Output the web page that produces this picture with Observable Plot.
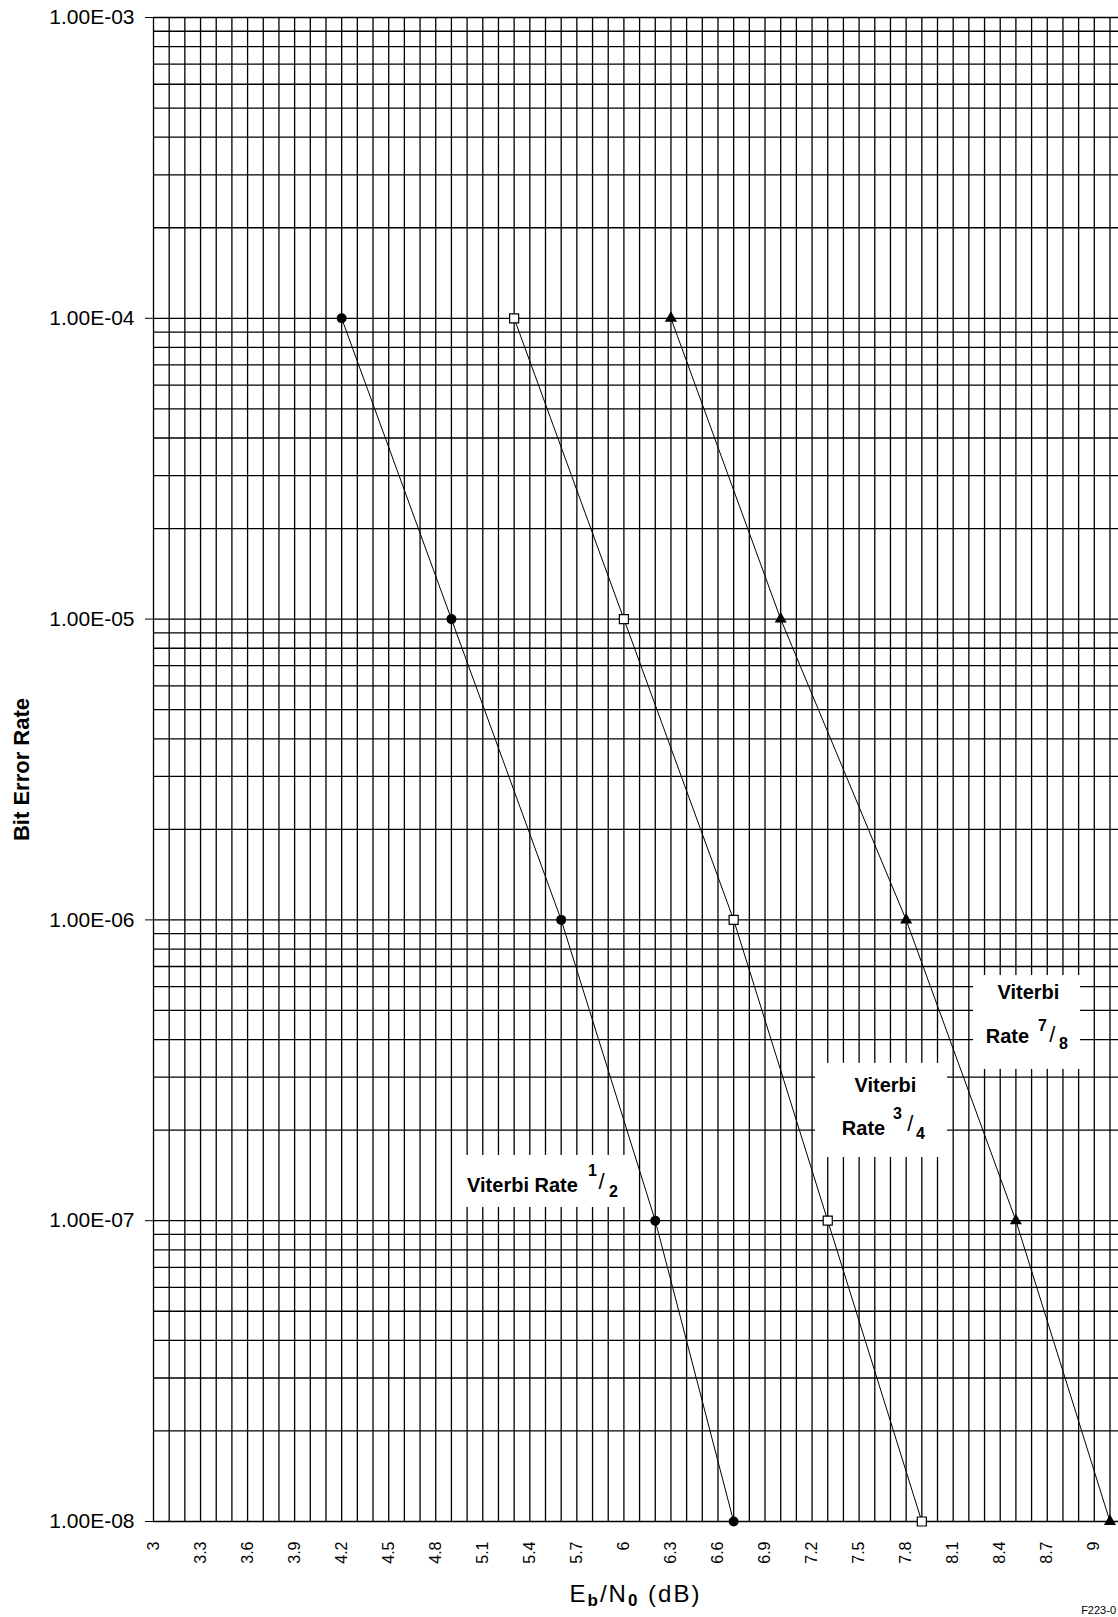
<!DOCTYPE html>
<html><head><meta charset="utf-8">
<script src="https://cdn.jsdelivr.net/npm/d3@7"></script>
<script src="https://cdn.jsdelivr.net/npm/@observablehq/plot@0.6"></script>
<style>
body{margin:0;background:#fff;overflow:hidden}
#chart svg{display:block}
</style>
</head><body><div id="chart"></div>
<script>
// ---- data ----
const ber = [1e-4, 1e-5, 1e-6, 1e-7, 1e-8];
const ebnoRate12 = [4.2, 4.9, 5.6, 6.2, 6.7];
const ebnoRate34 = [5.3, 6.0, 6.7, 7.3, 7.9];
const ebnoRate78 = [6.3, 7.0, 7.8, 8.5, 9.1];

const xTickLabels = [3, 3.3, 3.6, 3.9, 4.2, 4.5, 4.8, 5.1, 5.4, 5.7, 6, 6.3, 6.6, 6.9, 7.2, 7.5, 7.8, 8.1, 8.4, 8.7, 9];
const yTickLabels = [1e-8, 1e-7, 1e-6, 1e-5, 1e-4, 1e-3];

// label boxes (data coordinates)
const boxX1 = [4.945, 7.222, 8.230];
const boxX2 = [6.023, 8.064, 8.912];
const boxExp1 = [-6.783, -6.477, -6.185];
const boxExp2 = [-6.956, -6.790, -6.497];

// label pieces (data coordinates, kind)
const labelText = ["Viterbi Rate", "1", "/", "2",
                   "Viterbi", "Rate", "3", "/", "4",
                   "Viterbi", "Rate", "7", "/", "8"];
const labelX = [5.353, 5.800, 5.857, 5.934,
                7.668, 7.528, 7.745, 7.827, 7.892,
                8.580, 8.446, 8.670, 8.733, 8.804];
const labelExp = [-6.883, -6.836, -6.870, -6.903,
                  -6.551, -6.693, -6.644, -6.680, -6.713,
                  -6.241, -6.388, -6.351, -6.381, -6.411];
const labelKind = ["word", "frac", "slash", "frac",
                   "word", "word", "frac", "slash", "frac",
                   "word", "word", "frac", "slash", "frac"];

// ---- derived tables ----
const s12 = ber.map((b, i) => ({x: ebnoRate12[i], y: b}));
const s34 = ber.map((b, i) => ({x: ebnoRate34[i], y: b}));
const s78 = ber.map((b, i) => ({x: ebnoRate78[i], y: b}));
const boxes = boxX1.map((x1, i) => ({x1, x2: boxX2[i], y1: Math.pow(10, boxExp1[i]), y2: Math.pow(10, boxExp2[i])}));
const labels = labelText.map((t, i) => ({text: t, x: labelX[i], y: Math.pow(10, labelExp[i]), kind: labelKind[i]}));

const xGrid = d3.range(30, 92).map(d => d / 10);
const yGrid = [];
for (let e = -8; e < -3; e++) for (let m = 1; m <= 9; m++) yGrid.push(m * Math.pow(10, e));
yGrid.push(1e-3);

const fmtY = d => {
  const e = Math.round(Math.log10(d));
  return "1.00E" + (e < 0 ? "-" : "+") + String(Math.abs(e)).padStart(2, "0");
};

const W = 1118, H = 1617;
const font = "'Liberation Sans', Arial, sans-serif";

const plot = Plot.plot({
  width: W, height: H,
  marginLeft: 153, marginRight: 0, marginTop: 17, marginBottom: 96,
  style: {fontFamily: font, color: "#000", background: "#fff"},
  x: {domain: [3, 3 + 965 / 156.8]},
  y: {type: "log", domain: [1e-8, 1e-3]},
  marks: [
    Plot.ruleX(xGrid, {stroke: "#000", strokeWidth: 1.3}),
    Plot.ruleY(yGrid, {stroke: "#000", strokeWidth: 1.3}),
    Plot.rect(boxes, {x1: "x1", x2: "x2", y1: "y1", y2: "y2", fill: "#fff"}),
    Plot.line(s12, {x: "x", y: "y", stroke: "#000", strokeWidth: 1}),
    Plot.line(s34, {x: "x", y: "y", stroke: "#000", strokeWidth: 1}),
    Plot.line(s78, {x: "x", y: "y", stroke: "#000", strokeWidth: 1}),
    Plot.dot(s12, {x: "x", y: "y", symbol: "circle", r: 5, fill: "#000"}),
    Plot.dot(s34, {x: "x", y: "y", symbol: "square", r: 5.1, fill: "#fff", stroke: "#000", strokeWidth: 1.2}),
    Plot.dot(s78, {x: "x", y: "y", symbol: "triangle", r: 4.5, fill: "#000"}),
    Plot.text(labels.filter(d => d.kind === "word"), {x: "x", y: "y", text: "text", fontSize: 20, fontWeight: "bold", fill: "#000", lineAnchor: "middle"}),
    Plot.text(labels.filter(d => d.kind === "frac"), {x: "x", y: "y", text: "text", fontSize: 16, fontWeight: "bold", fill: "#000", lineAnchor: "middle"}),
    Plot.text(labels.filter(d => d.kind === "slash"), {x: "x", y: "y", text: "text", fontSize: 22, fill: "#000", lineAnchor: "middle"}),
    Plot.axisY(yTickLabels, {tickFormat: fmtY, tickSize: 8, tickPadding: 11, fontSize: 21, label: null}),
    Plot.axisX(xTickLabels, {tickFormat: d => String(d), tickSize: 0, tickPadding: 20, tickRotate: -90, fontSize: 16, label: null}),
    Plot.text(["Bit Error Rate"], {frameAnchor: "left", rotate: -90, dx: -132, textAnchor: "middle", fontSize: 22, fontWeight: "bold", fill: "#000", lineAnchor: "middle"})
  ]
});

document.getElementById("chart").appendChild(plot);

// x-axis title with subscripts, centred under the frame
const xr = plot.scale("x").range;
const yr = plot.scale("y").range;
const svg = d3.select(plot);
const t = svg.append("text")
  .attr("x", (xr[0] + xr[1]) / 2)
  .attr("y", Math.max(yr[0], yr[1]) + 81)
  .attr("text-anchor", "middle")
  .attr("font-family", font)
  .attr("font-size", 24)
  .attr("letter-spacing", 2)
  .attr("fill", "#000");
t.append("tspan").text("E");
t.append("tspan").attr("font-size", 17).attr("font-weight", "bold").attr("dy", 4).text("b");
t.append("tspan").attr("dy", -4).text("/N");
t.append("tspan").attr("font-size", 17).attr("font-weight", "bold").attr("dy", 4).text("0");
t.append("tspan").attr("dy", -4).text(" (dB)");

svg.append("text")
  .attr("x", W - 2)
  .attr("y", H - 3)
  .attr("text-anchor", "end")
  .attr("font-family", font)
  .attr("font-size", 11)
  .attr("fill", "#000")
  .text("F223-0");
</script>
</body></html>
